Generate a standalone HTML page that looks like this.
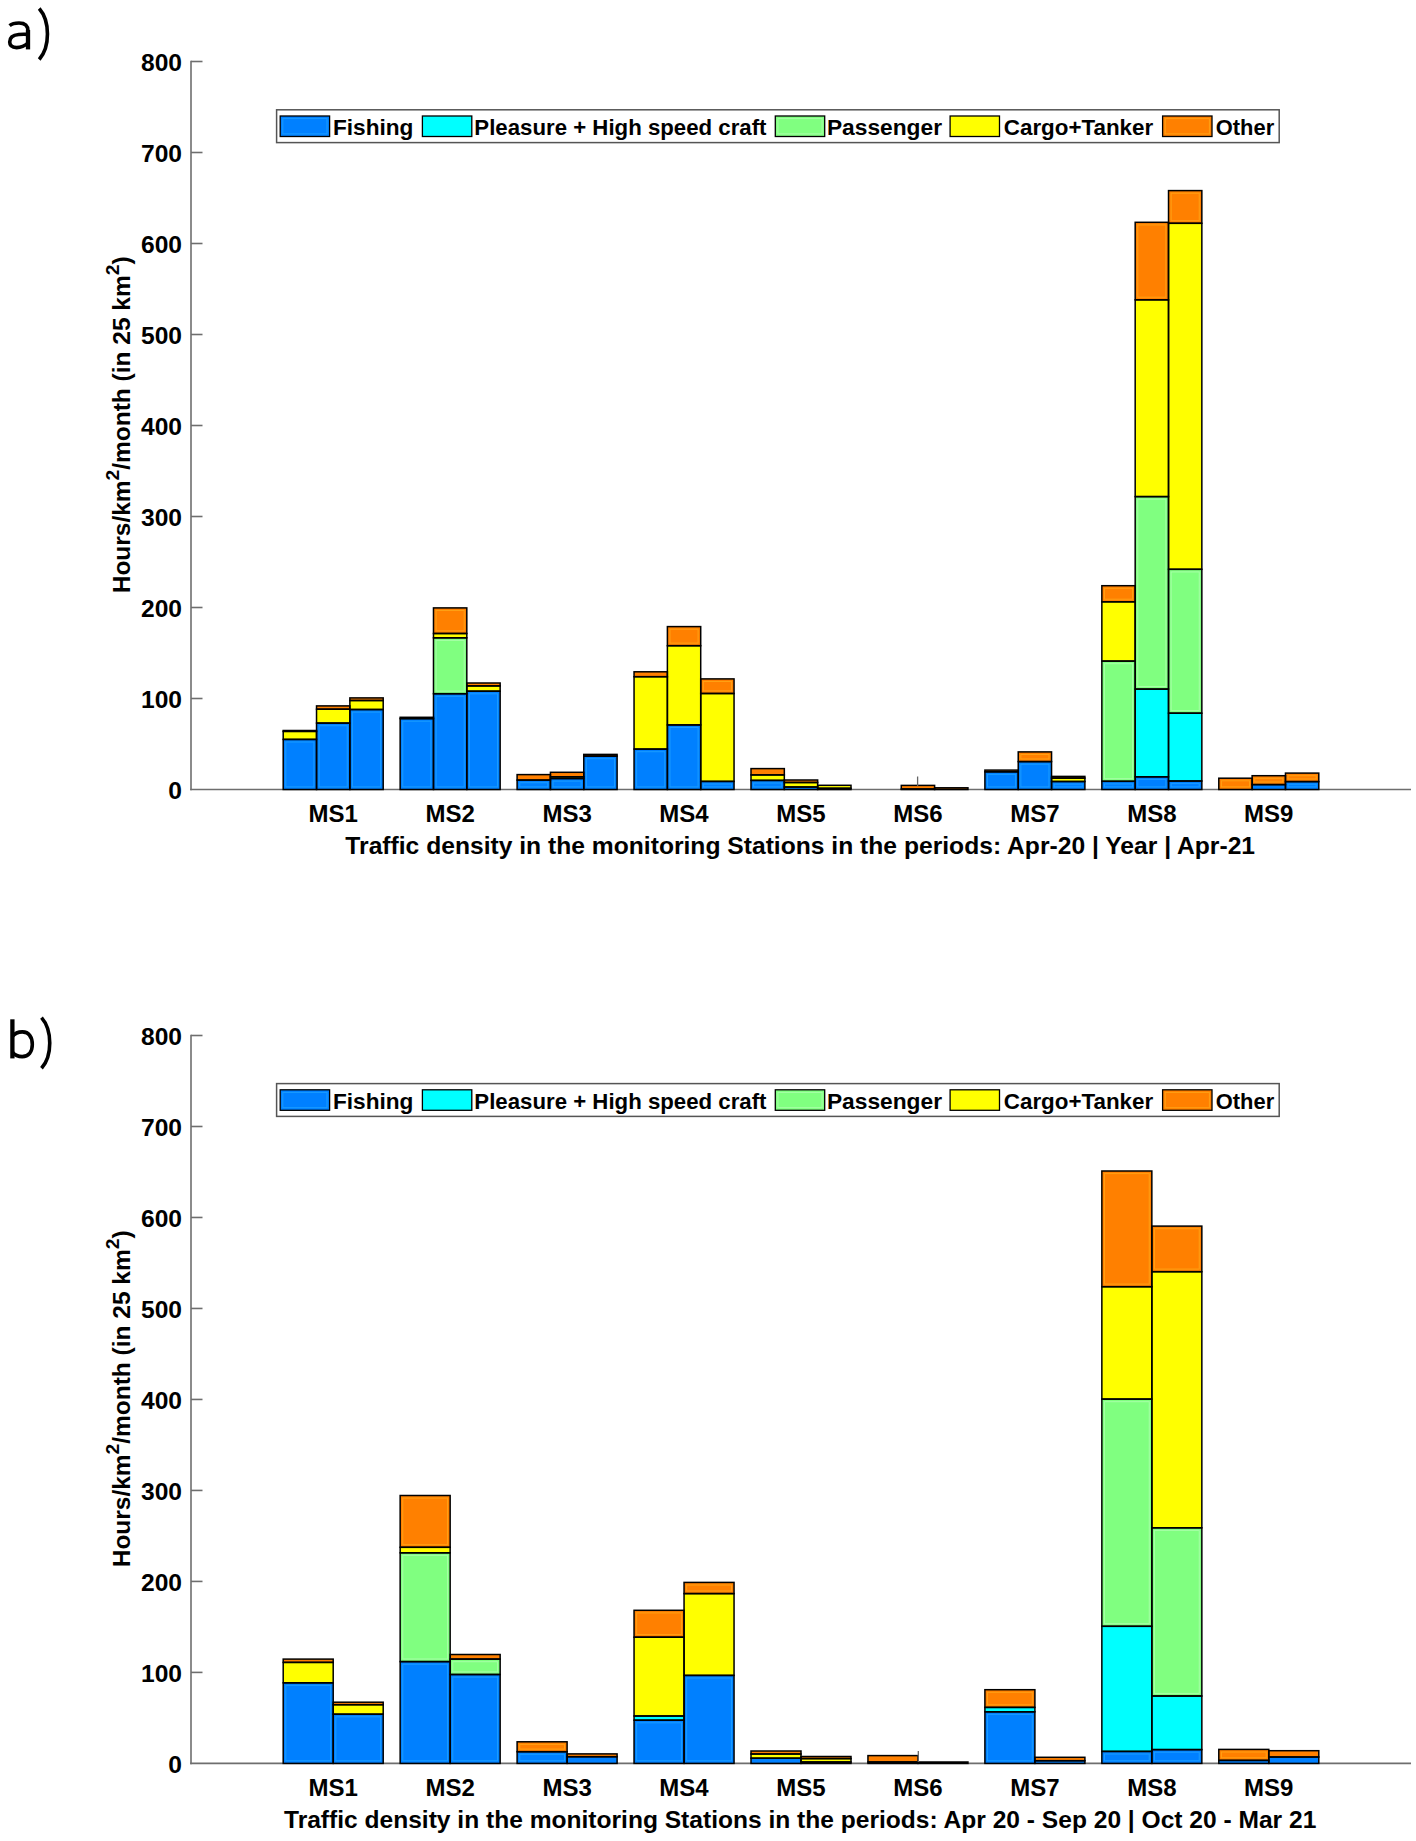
<!DOCTYPE html>
<html><head><meta charset="utf-8"><style>
html,body{margin:0;padding:0;background:#fff;}
body{width:1416px;height:1841px;overflow:hidden;}
svg{display:block;}
text{font-family:"Liberation Sans",sans-serif;fill:#000;}
.tn{font-size:24.6px;font-weight:bold;}
.tl{font-size:24px;font-weight:bold;}
.xl{font-size:24px;font-weight:bold;}
.yl{font-size:23px;font-weight:bold;}
.lt{font-size:22px;font-weight:bold;}
.pl{fill:none;stroke:#000;stroke-width:3.6;}
.pl .st{stroke-width:4.3;}
.e rect{fill:none;stroke:#000;stroke-width:1.5;}
.hl rect{fill:none;stroke-width:1;stroke-opacity:0.75;}
.ax{stroke:#6e6e6e;stroke-width:1.6;}
.lg{fill:#fff;stroke:#555;stroke-width:1.5;}
.sw{stroke:#000;stroke-width:1.3;}
</style></head><body>
<svg width="1416" height="1841" viewBox="0 0 1416 1841">
<line x1="191" y1="60.70" x2="191" y2="790.30" class="ax"/>
<line x1="190.2" y1="789.50" x2="1411" y2="789.50" class="ax"/>
<line x1="191" y1="698.50" x2="202.5" y2="698.50" class="ax"/>
<line x1="191" y1="607.50" x2="202.5" y2="607.50" class="ax"/>
<line x1="191" y1="516.50" x2="202.5" y2="516.50" class="ax"/>
<line x1="191" y1="425.50" x2="202.5" y2="425.50" class="ax"/>
<line x1="191" y1="334.50" x2="202.5" y2="334.50" class="ax"/>
<line x1="191" y1="243.50" x2="202.5" y2="243.50" class="ax"/>
<line x1="191" y1="152.50" x2="202.5" y2="152.50" class="ax"/>
<line x1="191" y1="61.50" x2="202.5" y2="61.50" class="ax"/>
<text x="182" y="799.30" class="tn" text-anchor="end">0</text>
<text x="182" y="708.30" class="tn" text-anchor="end">100</text>
<text x="182" y="617.30" class="tn" text-anchor="end">200</text>
<text x="182" y="526.30" class="tn" text-anchor="end">300</text>
<text x="182" y="435.30" class="tn" text-anchor="end">400</text>
<text x="182" y="344.30" class="tn" text-anchor="end">500</text>
<text x="182" y="253.30" class="tn" text-anchor="end">600</text>
<text x="182" y="162.30" class="tn" text-anchor="end">700</text>
<text x="182" y="71.30" class="tn" text-anchor="end">800</text>
<text x="333.20" y="822.10" class="tl" text-anchor="middle">MS1</text>
<text x="450.15" y="822.10" class="tl" text-anchor="middle">MS2</text>
<text x="567.10" y="822.10" class="tl" text-anchor="middle">MS3</text>
<text x="684.05" y="822.10" class="tl" text-anchor="middle">MS4</text>
<text x="801.00" y="822.10" class="tl" text-anchor="middle">MS5</text>
<text x="917.95" y="822.10" class="tl" text-anchor="middle">MS6</text>
<text x="1034.90" y="822.10" class="tl" text-anchor="middle">MS7</text>
<text x="1151.85" y="822.10" class="tl" text-anchor="middle">MS8</text>
<text x="1268.80" y="822.10" class="tl" text-anchor="middle">MS9</text>
<rect x="283.20" y="739.40" width="33.33" height="50.10" fill="#0080ff"/>
<rect x="283.20" y="731.40" width="33.33" height="8.00" fill="#ffff00"/>
<rect x="283.20" y="730.50" width="33.33" height="0.90" fill="#ff8000"/>
<rect x="316.53" y="723.10" width="33.33" height="66.40" fill="#0080ff"/>
<rect x="316.53" y="709.20" width="33.33" height="13.90" fill="#ffff00"/>
<rect x="316.53" y="705.90" width="33.33" height="3.30" fill="#ff8000"/>
<rect x="349.87" y="709.50" width="33.33" height="80.00" fill="#0080ff"/>
<rect x="349.87" y="700.50" width="33.33" height="9.00" fill="#ffff00"/>
<rect x="349.87" y="697.90" width="33.33" height="2.60" fill="#ff8000"/>
<rect x="400.15" y="718.60" width="33.33" height="70.90" fill="#0080ff"/>
<rect x="400.15" y="717.30" width="33.33" height="1.30" fill="#ff8000"/>
<rect x="433.48" y="693.70" width="33.33" height="95.80" fill="#0080ff"/>
<rect x="433.48" y="637.80" width="33.33" height="55.90" fill="#80ff80"/>
<rect x="433.48" y="633.50" width="33.33" height="4.30" fill="#ffff00"/>
<rect x="433.48" y="607.90" width="33.33" height="25.60" fill="#ff8000"/>
<rect x="466.82" y="691.20" width="33.33" height="98.30" fill="#0080ff"/>
<rect x="466.82" y="685.90" width="33.33" height="5.30" fill="#ffff00"/>
<rect x="466.82" y="683.00" width="33.33" height="2.90" fill="#ff8000"/>
<rect x="517.10" y="780.10" width="33.33" height="9.40" fill="#0080ff"/>
<rect x="517.10" y="774.60" width="33.33" height="5.50" fill="#ff8000"/>
<rect x="550.43" y="778.50" width="33.33" height="11.00" fill="#0080ff"/>
<rect x="550.43" y="776.80" width="33.33" height="1.70" fill="#ffff00"/>
<rect x="550.43" y="772.30" width="33.33" height="4.50" fill="#ff8000"/>
<rect x="583.77" y="756.10" width="33.33" height="33.40" fill="#0080ff"/>
<rect x="583.77" y="754.40" width="33.33" height="1.70" fill="#ff8000"/>
<rect x="634.05" y="749.10" width="33.33" height="40.40" fill="#0080ff"/>
<rect x="634.05" y="676.70" width="33.33" height="72.40" fill="#ffff00"/>
<rect x="634.05" y="671.80" width="33.33" height="4.90" fill="#ff8000"/>
<rect x="667.38" y="724.90" width="33.33" height="64.60" fill="#0080ff"/>
<rect x="667.38" y="645.70" width="33.33" height="79.20" fill="#ffff00"/>
<rect x="667.38" y="626.60" width="33.33" height="19.10" fill="#ff8000"/>
<rect x="700.72" y="781.40" width="33.33" height="8.10" fill="#0080ff"/>
<rect x="700.72" y="693.50" width="33.33" height="87.90" fill="#ffff00"/>
<rect x="700.72" y="678.90" width="33.33" height="14.60" fill="#ff8000"/>
<rect x="751.00" y="780.40" width="33.33" height="9.10" fill="#0080ff"/>
<rect x="751.00" y="774.90" width="33.33" height="5.50" fill="#ffff00"/>
<rect x="751.00" y="768.60" width="33.33" height="6.30" fill="#ff8000"/>
<rect x="784.33" y="787.00" width="33.33" height="2.50" fill="#0080ff"/>
<rect x="784.33" y="782.50" width="33.33" height="4.50" fill="#ffff00"/>
<rect x="784.33" y="780.00" width="33.33" height="2.50" fill="#ff8000"/>
<rect x="817.67" y="788.30" width="33.33" height="1.20" fill="#0080ff"/>
<rect x="817.67" y="785.30" width="33.33" height="3.00" fill="#ffff00"/>
<rect x="901.28" y="789.00" width="33.33" height="0.50" fill="#0080ff"/>
<rect x="901.28" y="785.40" width="33.33" height="3.60" fill="#ff8000"/>
<rect x="934.62" y="787.80" width="33.33" height="1.70" fill="#ff8000"/>
<rect x="984.90" y="771.80" width="33.33" height="17.70" fill="#0080ff"/>
<rect x="984.90" y="770.10" width="33.33" height="1.70" fill="#ff8000"/>
<rect x="1018.23" y="761.60" width="33.33" height="27.90" fill="#0080ff"/>
<rect x="1018.23" y="751.90" width="33.33" height="9.70" fill="#ff8000"/>
<rect x="1051.57" y="781.50" width="33.33" height="8.00" fill="#0080ff"/>
<rect x="1051.57" y="778.10" width="33.33" height="3.40" fill="#ffff00"/>
<rect x="1051.57" y="776.40" width="33.33" height="1.70" fill="#ff8000"/>
<rect x="1101.85" y="781.30" width="33.33" height="8.20" fill="#0080ff"/>
<rect x="1101.85" y="661.10" width="33.33" height="120.20" fill="#80ff80"/>
<rect x="1101.85" y="601.80" width="33.33" height="59.30" fill="#ffff00"/>
<rect x="1101.85" y="585.70" width="33.33" height="16.10" fill="#ff8000"/>
<rect x="1135.18" y="776.80" width="33.33" height="12.70" fill="#0080ff"/>
<rect x="1135.18" y="689.10" width="33.33" height="87.70" fill="#00ffff"/>
<rect x="1135.18" y="496.60" width="33.33" height="192.50" fill="#80ff80"/>
<rect x="1135.18" y="299.80" width="33.33" height="196.80" fill="#ffff00"/>
<rect x="1135.18" y="222.30" width="33.33" height="77.50" fill="#ff8000"/>
<rect x="1168.52" y="781.00" width="33.33" height="8.50" fill="#0080ff"/>
<rect x="1168.52" y="713.20" width="33.33" height="67.80" fill="#00ffff"/>
<rect x="1168.52" y="569.30" width="33.33" height="143.90" fill="#80ff80"/>
<rect x="1168.52" y="223.30" width="33.33" height="346.00" fill="#ffff00"/>
<rect x="1168.52" y="190.60" width="33.33" height="32.70" fill="#ff8000"/>
<rect x="1218.80" y="778.20" width="33.33" height="11.30" fill="#ff8000"/>
<rect x="1252.13" y="784.60" width="33.33" height="4.90" fill="#0080ff"/>
<rect x="1252.13" y="775.70" width="33.33" height="8.90" fill="#ff8000"/>
<rect x="1285.47" y="781.60" width="33.33" height="7.90" fill="#0080ff"/>
<rect x="1285.47" y="773.10" width="33.33" height="8.50" fill="#ff8000"/>
<g class="hl">
<rect x="285.80" y="742.00" width="28.13" height="44.90" stroke="#22a6ff"/>
<rect x="319.13" y="725.70" width="28.13" height="61.20" stroke="#22a6ff"/>
<rect x="352.47" y="712.10" width="28.13" height="74.80" stroke="#22a6ff"/>
<rect x="402.75" y="721.20" width="28.13" height="65.70" stroke="#22a6ff"/>
<rect x="436.08" y="696.30" width="28.13" height="90.60" stroke="#22a6ff"/>
<rect x="436.08" y="640.40" width="28.13" height="50.70" stroke="#b4ffb4"/>
<rect x="436.08" y="610.50" width="28.13" height="20.40" stroke="#ffab1a"/>
<rect x="469.42" y="693.80" width="28.13" height="93.10" stroke="#22a6ff"/>
<rect x="519.70" y="782.70" width="28.13" height="4.20" stroke="#22a6ff"/>
<rect x="553.03" y="781.10" width="28.13" height="5.80" stroke="#22a6ff"/>
<rect x="586.37" y="758.70" width="28.13" height="28.20" stroke="#22a6ff"/>
<rect x="636.65" y="751.70" width="28.13" height="35.20" stroke="#22a6ff"/>
<rect x="669.98" y="727.50" width="28.13" height="59.40" stroke="#22a6ff"/>
<rect x="669.98" y="629.20" width="28.13" height="13.90" stroke="#ffab1a"/>
<rect x="703.32" y="784.00" width="28.13" height="2.90" stroke="#22a6ff"/>
<rect x="703.32" y="681.50" width="28.13" height="9.40" stroke="#ffab1a"/>
<rect x="753.60" y="783.00" width="28.13" height="3.90" stroke="#22a6ff"/>
<rect x="987.50" y="774.40" width="28.13" height="12.50" stroke="#22a6ff"/>
<rect x="1020.83" y="764.20" width="28.13" height="22.70" stroke="#22a6ff"/>
<rect x="1020.83" y="754.50" width="28.13" height="4.50" stroke="#ffab1a"/>
<rect x="1054.17" y="784.10" width="28.13" height="2.80" stroke="#22a6ff"/>
<rect x="1104.45" y="783.90" width="28.13" height="3.00" stroke="#22a6ff"/>
<rect x="1104.45" y="663.70" width="28.13" height="115.00" stroke="#b4ffb4"/>
<rect x="1104.45" y="588.30" width="28.13" height="10.90" stroke="#ffab1a"/>
<rect x="1137.78" y="779.40" width="28.13" height="7.50" stroke="#22a6ff"/>
<rect x="1137.78" y="499.20" width="28.13" height="187.30" stroke="#b4ffb4"/>
<rect x="1137.78" y="224.90" width="28.13" height="72.30" stroke="#ffab1a"/>
<rect x="1171.12" y="783.60" width="28.13" height="3.30" stroke="#22a6ff"/>
<rect x="1171.12" y="571.90" width="28.13" height="138.70" stroke="#b4ffb4"/>
<rect x="1171.12" y="193.20" width="28.13" height="27.50" stroke="#ffab1a"/>
<rect x="1221.40" y="780.80" width="28.13" height="6.10" stroke="#ffab1a"/>
<rect x="1254.73" y="778.30" width="28.13" height="3.70" stroke="#ffab1a"/>
<rect x="1288.07" y="784.20" width="28.13" height="2.70" stroke="#22a6ff"/>
<rect x="1288.07" y="775.70" width="28.13" height="3.30" stroke="#ffab1a"/>
</g>
<g class="e">
<rect x="283.20" y="739.40" width="33.33" height="50.10"/>
<rect x="283.20" y="731.40" width="33.33" height="8.00"/>
<rect x="283.20" y="730.50" width="33.33" height="0.90"/>
<rect x="316.53" y="723.10" width="33.33" height="66.40"/>
<rect x="316.53" y="709.20" width="33.33" height="13.90"/>
<rect x="316.53" y="705.90" width="33.33" height="3.30"/>
<rect x="349.87" y="709.50" width="33.33" height="80.00"/>
<rect x="349.87" y="700.50" width="33.33" height="9.00"/>
<rect x="349.87" y="697.90" width="33.33" height="2.60"/>
<rect x="400.15" y="718.60" width="33.33" height="70.90"/>
<rect x="400.15" y="717.30" width="33.33" height="1.30"/>
<rect x="433.48" y="693.70" width="33.33" height="95.80"/>
<rect x="433.48" y="637.80" width="33.33" height="55.90"/>
<rect x="433.48" y="633.50" width="33.33" height="4.30"/>
<rect x="433.48" y="607.90" width="33.33" height="25.60"/>
<rect x="466.82" y="691.20" width="33.33" height="98.30"/>
<rect x="466.82" y="685.90" width="33.33" height="5.30"/>
<rect x="466.82" y="683.00" width="33.33" height="2.90"/>
<rect x="517.10" y="780.10" width="33.33" height="9.40"/>
<rect x="517.10" y="774.60" width="33.33" height="5.50"/>
<rect x="550.43" y="778.50" width="33.33" height="11.00"/>
<rect x="550.43" y="776.80" width="33.33" height="1.70"/>
<rect x="550.43" y="772.30" width="33.33" height="4.50"/>
<rect x="583.77" y="756.10" width="33.33" height="33.40"/>
<rect x="583.77" y="754.40" width="33.33" height="1.70"/>
<rect x="634.05" y="749.10" width="33.33" height="40.40"/>
<rect x="634.05" y="676.70" width="33.33" height="72.40"/>
<rect x="634.05" y="671.80" width="33.33" height="4.90"/>
<rect x="667.38" y="724.90" width="33.33" height="64.60"/>
<rect x="667.38" y="645.70" width="33.33" height="79.20"/>
<rect x="667.38" y="626.60" width="33.33" height="19.10"/>
<rect x="700.72" y="781.40" width="33.33" height="8.10"/>
<rect x="700.72" y="693.50" width="33.33" height="87.90"/>
<rect x="700.72" y="678.90" width="33.33" height="14.60"/>
<rect x="751.00" y="780.40" width="33.33" height="9.10"/>
<rect x="751.00" y="774.90" width="33.33" height="5.50"/>
<rect x="751.00" y="768.60" width="33.33" height="6.30"/>
<rect x="784.33" y="787.00" width="33.33" height="2.50"/>
<rect x="784.33" y="782.50" width="33.33" height="4.50"/>
<rect x="784.33" y="780.00" width="33.33" height="2.50"/>
<rect x="817.67" y="788.30" width="33.33" height="1.20"/>
<rect x="817.67" y="785.30" width="33.33" height="3.00"/>
<rect x="901.28" y="789.00" width="33.33" height="0.50"/>
<rect x="901.28" y="785.40" width="33.33" height="3.60"/>
<rect x="934.62" y="787.80" width="33.33" height="1.70"/>
<rect x="984.90" y="771.80" width="33.33" height="17.70"/>
<rect x="984.90" y="770.10" width="33.33" height="1.70"/>
<rect x="1018.23" y="761.60" width="33.33" height="27.90"/>
<rect x="1018.23" y="751.90" width="33.33" height="9.70"/>
<rect x="1051.57" y="781.50" width="33.33" height="8.00"/>
<rect x="1051.57" y="778.10" width="33.33" height="3.40"/>
<rect x="1051.57" y="776.40" width="33.33" height="1.70"/>
<rect x="1101.85" y="781.30" width="33.33" height="8.20"/>
<rect x="1101.85" y="661.10" width="33.33" height="120.20"/>
<rect x="1101.85" y="601.80" width="33.33" height="59.30"/>
<rect x="1101.85" y="585.70" width="33.33" height="16.10"/>
<rect x="1135.18" y="776.80" width="33.33" height="12.70"/>
<rect x="1135.18" y="689.10" width="33.33" height="87.70"/>
<rect x="1135.18" y="496.60" width="33.33" height="192.50"/>
<rect x="1135.18" y="299.80" width="33.33" height="196.80"/>
<rect x="1135.18" y="222.30" width="33.33" height="77.50"/>
<rect x="1168.52" y="781.00" width="33.33" height="8.50"/>
<rect x="1168.52" y="713.20" width="33.33" height="67.80"/>
<rect x="1168.52" y="569.30" width="33.33" height="143.90"/>
<rect x="1168.52" y="223.30" width="33.33" height="346.00"/>
<rect x="1168.52" y="190.60" width="33.33" height="32.70"/>
<rect x="1218.80" y="778.20" width="33.33" height="11.30"/>
<rect x="1252.13" y="784.60" width="33.33" height="4.90"/>
<rect x="1252.13" y="775.70" width="33.33" height="8.90"/>
<rect x="1285.47" y="781.60" width="33.33" height="7.90"/>
<rect x="1285.47" y="773.10" width="33.33" height="8.50"/>
</g>
<rect x="276.6" y="109.80" width="1002.6" height="32.8" class="lg"/>
<rect x="280.20" y="116.00" width="49.4" height="20.5" fill="#0080ff"/>
<rect x="282.80" y="118.60" width="44.2" height="15.3" fill="none" stroke="#22a6ff" stroke-width="1" stroke-opacity="0.75"/>
<rect x="280.20" y="116.00" width="49.4" height="20.5" fill="none" class="sw"/>
<text x="332.95" y="134.80" class="lt" textLength="80.47" lengthAdjust="spacingAndGlyphs">Fishing</text>
<rect x="422.40" y="116.00" width="49.4" height="20.5" fill="#00ffff"/>
<rect x="422.40" y="116.00" width="49.4" height="20.5" fill="none" class="sw"/>
<text x="474.38" y="134.80" class="lt" textLength="292.10" lengthAdjust="spacingAndGlyphs">Pleasure + High speed craft</text>
<rect x="775.30" y="116.00" width="49.4" height="20.5" fill="#80ff80"/>
<rect x="777.90" y="118.60" width="44.2" height="15.3" fill="none" stroke="#b4ffb4" stroke-width="1" stroke-opacity="0.75"/>
<rect x="775.30" y="116.00" width="49.4" height="20.5" fill="none" class="sw"/>
<text x="826.93" y="134.80" class="lt" textLength="115.09" lengthAdjust="spacingAndGlyphs">Passenger</text>
<rect x="950.10" y="116.00" width="49.4" height="20.5" fill="#ffff00"/>
<rect x="950.10" y="116.00" width="49.4" height="20.5" fill="none" class="sw"/>
<text x="1003.79" y="134.80" class="lt" textLength="149.44" lengthAdjust="spacingAndGlyphs">Cargo+Tanker</text>
<rect x="1162.60" y="116.00" width="49.4" height="20.5" fill="#ff8000"/>
<rect x="1165.20" y="118.60" width="44.2" height="15.3" fill="none" stroke="#ffab1a" stroke-width="1" stroke-opacity="0.75"/>
<rect x="1162.60" y="116.00" width="49.4" height="20.5" fill="none" class="sw"/>
<text x="1215.80" y="134.80" class="lt" textLength="58.38" lengthAdjust="spacingAndGlyphs">Other</text>
<text transform="translate(130.3,593.28) rotate(-90)" class="yl" textLength="336.82" lengthAdjust="spacingAndGlyphs">Hours/km<tspan dy="-11" font-size="18">2</tspan><tspan dy="11">/month (in 25 km</tspan><tspan dy="-11" font-size="18">2</tspan><tspan dy="11">)</tspan></text>
<text x="345.37" y="854.3" class="xl" textLength="909.69" lengthAdjust="spacingAndGlyphs">Traffic density in the monitoring Stations in the periods: Apr-20 | Year | Apr-21</text>
<g class="pl" transform="translate(0,0)"><path d="M9.6,25.6 C12.6,23.1 15.6,23.0 19,23.0 C25.2,23.0 28.0,25.6 28.0,31" /><path class="st" d="M28.0,30 V49.4" /><path d="M28.0,34.4 C25,34.2 22,34.2 18.8,34.5 C12.6,35 9.7,38 9.7,42.1 C9.7,46.2 12.6,47.6 16.6,47.6 C21.2,47.6 25,45.8 28.0,43" /><path d="M39.2,8.5 C50.2,21 50.2,47 39.2,59.5" /></g>
<line x1="917.6" y1="776.5" x2="917.6" y2="786" stroke="#666" stroke-width="1.3"/>
<line x1="191" y1="1034.70" x2="191" y2="1764.20" class="ax"/>
<line x1="190.2" y1="1763.40" x2="1411" y2="1763.40" class="ax"/>
<line x1="191" y1="1672.41" x2="202.5" y2="1672.41" class="ax"/>
<line x1="191" y1="1581.43" x2="202.5" y2="1581.43" class="ax"/>
<line x1="191" y1="1490.44" x2="202.5" y2="1490.44" class="ax"/>
<line x1="191" y1="1399.45" x2="202.5" y2="1399.45" class="ax"/>
<line x1="191" y1="1308.46" x2="202.5" y2="1308.46" class="ax"/>
<line x1="191" y1="1217.47" x2="202.5" y2="1217.47" class="ax"/>
<line x1="191" y1="1126.49" x2="202.5" y2="1126.49" class="ax"/>
<line x1="191" y1="1035.50" x2="202.5" y2="1035.50" class="ax"/>
<text x="182" y="1773.20" class="tn" text-anchor="end">0</text>
<text x="182" y="1682.21" class="tn" text-anchor="end">100</text>
<text x="182" y="1591.23" class="tn" text-anchor="end">200</text>
<text x="182" y="1500.24" class="tn" text-anchor="end">300</text>
<text x="182" y="1409.25" class="tn" text-anchor="end">400</text>
<text x="182" y="1318.26" class="tn" text-anchor="end">500</text>
<text x="182" y="1227.27" class="tn" text-anchor="end">600</text>
<text x="182" y="1136.29" class="tn" text-anchor="end">700</text>
<text x="182" y="1045.30" class="tn" text-anchor="end">800</text>
<text x="333.20" y="1796.00" class="tl" text-anchor="middle">MS1</text>
<text x="450.15" y="1796.00" class="tl" text-anchor="middle">MS2</text>
<text x="567.10" y="1796.00" class="tl" text-anchor="middle">MS3</text>
<text x="684.05" y="1796.00" class="tl" text-anchor="middle">MS4</text>
<text x="801.00" y="1796.00" class="tl" text-anchor="middle">MS5</text>
<text x="917.95" y="1796.00" class="tl" text-anchor="middle">MS6</text>
<text x="1034.90" y="1796.00" class="tl" text-anchor="middle">MS7</text>
<text x="1151.85" y="1796.00" class="tl" text-anchor="middle">MS8</text>
<text x="1268.80" y="1796.00" class="tl" text-anchor="middle">MS9</text>
<rect x="283.20" y="1682.80" width="50.00" height="80.60" fill="#0080ff"/>
<rect x="283.20" y="1662.40" width="50.00" height="20.40" fill="#ffff00"/>
<rect x="283.20" y="1659.10" width="50.00" height="3.30" fill="#ff8000"/>
<rect x="333.20" y="1714.20" width="50.00" height="49.20" fill="#0080ff"/>
<rect x="333.20" y="1704.70" width="50.00" height="9.50" fill="#ffff00"/>
<rect x="333.20" y="1702.20" width="50.00" height="2.50" fill="#ff8000"/>
<rect x="400.15" y="1661.60" width="50.00" height="101.80" fill="#0080ff"/>
<rect x="400.15" y="1552.80" width="50.00" height="108.80" fill="#80ff80"/>
<rect x="400.15" y="1547.30" width="50.00" height="5.50" fill="#ffff00"/>
<rect x="400.15" y="1495.50" width="50.00" height="51.80" fill="#ff8000"/>
<rect x="450.15" y="1674.50" width="50.00" height="88.90" fill="#0080ff"/>
<rect x="450.15" y="1659.10" width="50.00" height="15.40" fill="#80ff80"/>
<rect x="450.15" y="1654.50" width="50.00" height="4.60" fill="#ff8000"/>
<rect x="517.10" y="1751.70" width="50.00" height="11.70" fill="#0080ff"/>
<rect x="517.10" y="1741.80" width="50.00" height="9.90" fill="#ff8000"/>
<rect x="567.10" y="1756.70" width="50.00" height="6.70" fill="#0080ff"/>
<rect x="567.10" y="1753.90" width="50.00" height="2.80" fill="#ff8000"/>
<rect x="634.05" y="1720.20" width="50.00" height="43.20" fill="#0080ff"/>
<rect x="634.05" y="1716.00" width="50.00" height="4.20" fill="#00ffff"/>
<rect x="634.05" y="1637.20" width="50.00" height="78.80" fill="#ffff00"/>
<rect x="634.05" y="1610.30" width="50.00" height="26.90" fill="#ff8000"/>
<rect x="684.05" y="1675.40" width="50.00" height="88.00" fill="#0080ff"/>
<rect x="684.05" y="1593.60" width="50.00" height="81.80" fill="#ffff00"/>
<rect x="684.05" y="1582.40" width="50.00" height="11.20" fill="#ff8000"/>
<rect x="751.00" y="1758.20" width="50.00" height="5.20" fill="#0080ff"/>
<rect x="751.00" y="1754.00" width="50.00" height="4.20" fill="#ffff00"/>
<rect x="751.00" y="1751.00" width="50.00" height="3.00" fill="#ff8000"/>
<rect x="801.00" y="1762.00" width="50.00" height="1.40" fill="#0080ff"/>
<rect x="801.00" y="1758.60" width="50.00" height="3.40" fill="#ffff00"/>
<rect x="801.00" y="1756.50" width="50.00" height="2.10" fill="#ff8000"/>
<rect x="867.95" y="1762.00" width="50.00" height="1.40" fill="#0080ff"/>
<rect x="867.95" y="1755.60" width="50.00" height="6.40" fill="#ff8000"/>
<rect x="917.95" y="1762.00" width="50.00" height="1.40" fill="#ff8000"/>
<rect x="984.90" y="1711.80" width="50.00" height="51.60" fill="#0080ff"/>
<rect x="984.90" y="1707.40" width="50.00" height="4.40" fill="#00ffff"/>
<rect x="984.90" y="1689.70" width="50.00" height="17.70" fill="#ff8000"/>
<rect x="1034.90" y="1760.70" width="50.00" height="2.70" fill="#0080ff"/>
<rect x="1034.90" y="1757.30" width="50.00" height="3.40" fill="#ff8000"/>
<rect x="1101.85" y="1751.40" width="50.00" height="12.00" fill="#0080ff"/>
<rect x="1101.85" y="1626.30" width="50.00" height="125.10" fill="#00ffff"/>
<rect x="1101.85" y="1399.10" width="50.00" height="227.20" fill="#80ff80"/>
<rect x="1101.85" y="1286.70" width="50.00" height="112.40" fill="#ffff00"/>
<rect x="1101.85" y="1171.00" width="50.00" height="115.70" fill="#ff8000"/>
<rect x="1151.85" y="1749.60" width="50.00" height="13.80" fill="#0080ff"/>
<rect x="1151.85" y="1696.00" width="50.00" height="53.60" fill="#00ffff"/>
<rect x="1151.85" y="1527.80" width="50.00" height="168.20" fill="#80ff80"/>
<rect x="1151.85" y="1271.70" width="50.00" height="256.10" fill="#ffff00"/>
<rect x="1151.85" y="1226.10" width="50.00" height="45.60" fill="#ff8000"/>
<rect x="1218.80" y="1760.40" width="50.00" height="3.00" fill="#0080ff"/>
<rect x="1218.80" y="1749.40" width="50.00" height="11.00" fill="#ff8000"/>
<rect x="1268.80" y="1757.00" width="50.00" height="6.40" fill="#0080ff"/>
<rect x="1268.80" y="1750.70" width="50.00" height="6.30" fill="#ff8000"/>
<g class="hl">
<rect x="285.80" y="1685.40" width="44.80" height="75.40" stroke="#22a6ff"/>
<rect x="335.80" y="1716.80" width="44.80" height="44.00" stroke="#22a6ff"/>
<rect x="402.75" y="1664.20" width="44.80" height="96.60" stroke="#22a6ff"/>
<rect x="402.75" y="1555.40" width="44.80" height="103.60" stroke="#b4ffb4"/>
<rect x="402.75" y="1498.10" width="44.80" height="46.60" stroke="#ffab1a"/>
<rect x="452.75" y="1677.10" width="44.80" height="83.70" stroke="#22a6ff"/>
<rect x="452.75" y="1661.70" width="44.80" height="10.20" stroke="#b4ffb4"/>
<rect x="519.70" y="1754.30" width="44.80" height="6.50" stroke="#22a6ff"/>
<rect x="519.70" y="1744.40" width="44.80" height="4.70" stroke="#ffab1a"/>
<rect x="636.65" y="1722.80" width="44.80" height="38.00" stroke="#22a6ff"/>
<rect x="636.65" y="1612.90" width="44.80" height="21.70" stroke="#ffab1a"/>
<rect x="686.65" y="1678.00" width="44.80" height="82.80" stroke="#22a6ff"/>
<rect x="686.65" y="1585.00" width="44.80" height="6.00" stroke="#ffab1a"/>
<rect x="987.50" y="1714.40" width="44.80" height="46.40" stroke="#22a6ff"/>
<rect x="987.50" y="1692.30" width="44.80" height="12.50" stroke="#ffab1a"/>
<rect x="1104.45" y="1754.00" width="44.80" height="6.80" stroke="#22a6ff"/>
<rect x="1104.45" y="1401.70" width="44.80" height="222.00" stroke="#b4ffb4"/>
<rect x="1104.45" y="1173.60" width="44.80" height="110.50" stroke="#ffab1a"/>
<rect x="1154.45" y="1752.20" width="44.80" height="8.60" stroke="#22a6ff"/>
<rect x="1154.45" y="1530.40" width="44.80" height="163.00" stroke="#b4ffb4"/>
<rect x="1154.45" y="1228.70" width="44.80" height="40.40" stroke="#ffab1a"/>
<rect x="1221.40" y="1752.00" width="44.80" height="5.80" stroke="#ffab1a"/>
</g>
<g class="e">
<rect x="283.20" y="1682.80" width="50.00" height="80.60"/>
<rect x="283.20" y="1662.40" width="50.00" height="20.40"/>
<rect x="283.20" y="1659.10" width="50.00" height="3.30"/>
<rect x="333.20" y="1714.20" width="50.00" height="49.20"/>
<rect x="333.20" y="1704.70" width="50.00" height="9.50"/>
<rect x="333.20" y="1702.20" width="50.00" height="2.50"/>
<rect x="400.15" y="1661.60" width="50.00" height="101.80"/>
<rect x="400.15" y="1552.80" width="50.00" height="108.80"/>
<rect x="400.15" y="1547.30" width="50.00" height="5.50"/>
<rect x="400.15" y="1495.50" width="50.00" height="51.80"/>
<rect x="450.15" y="1674.50" width="50.00" height="88.90"/>
<rect x="450.15" y="1659.10" width="50.00" height="15.40"/>
<rect x="450.15" y="1654.50" width="50.00" height="4.60"/>
<rect x="517.10" y="1751.70" width="50.00" height="11.70"/>
<rect x="517.10" y="1741.80" width="50.00" height="9.90"/>
<rect x="567.10" y="1756.70" width="50.00" height="6.70"/>
<rect x="567.10" y="1753.90" width="50.00" height="2.80"/>
<rect x="634.05" y="1720.20" width="50.00" height="43.20"/>
<rect x="634.05" y="1716.00" width="50.00" height="4.20"/>
<rect x="634.05" y="1637.20" width="50.00" height="78.80"/>
<rect x="634.05" y="1610.30" width="50.00" height="26.90"/>
<rect x="684.05" y="1675.40" width="50.00" height="88.00"/>
<rect x="684.05" y="1593.60" width="50.00" height="81.80"/>
<rect x="684.05" y="1582.40" width="50.00" height="11.20"/>
<rect x="751.00" y="1758.20" width="50.00" height="5.20"/>
<rect x="751.00" y="1754.00" width="50.00" height="4.20"/>
<rect x="751.00" y="1751.00" width="50.00" height="3.00"/>
<rect x="801.00" y="1762.00" width="50.00" height="1.40"/>
<rect x="801.00" y="1758.60" width="50.00" height="3.40"/>
<rect x="801.00" y="1756.50" width="50.00" height="2.10"/>
<rect x="867.95" y="1762.00" width="50.00" height="1.40"/>
<rect x="867.95" y="1755.60" width="50.00" height="6.40"/>
<rect x="917.95" y="1762.00" width="50.00" height="1.40"/>
<rect x="984.90" y="1711.80" width="50.00" height="51.60"/>
<rect x="984.90" y="1707.40" width="50.00" height="4.40"/>
<rect x="984.90" y="1689.70" width="50.00" height="17.70"/>
<rect x="1034.90" y="1760.70" width="50.00" height="2.70"/>
<rect x="1034.90" y="1757.30" width="50.00" height="3.40"/>
<rect x="1101.85" y="1751.40" width="50.00" height="12.00"/>
<rect x="1101.85" y="1626.30" width="50.00" height="125.10"/>
<rect x="1101.85" y="1399.10" width="50.00" height="227.20"/>
<rect x="1101.85" y="1286.70" width="50.00" height="112.40"/>
<rect x="1101.85" y="1171.00" width="50.00" height="115.70"/>
<rect x="1151.85" y="1749.60" width="50.00" height="13.80"/>
<rect x="1151.85" y="1696.00" width="50.00" height="53.60"/>
<rect x="1151.85" y="1527.80" width="50.00" height="168.20"/>
<rect x="1151.85" y="1271.70" width="50.00" height="256.10"/>
<rect x="1151.85" y="1226.10" width="50.00" height="45.60"/>
<rect x="1218.80" y="1760.40" width="50.00" height="3.00"/>
<rect x="1218.80" y="1749.40" width="50.00" height="11.00"/>
<rect x="1268.80" y="1757.00" width="50.00" height="6.40"/>
<rect x="1268.80" y="1750.70" width="50.00" height="6.30"/>
</g>
<rect x="276.6" y="1083.60" width="1002.6" height="32.8" class="lg"/>
<rect x="280.20" y="1089.80" width="49.4" height="20.5" fill="#0080ff"/>
<rect x="282.80" y="1092.40" width="44.2" height="15.3" fill="none" stroke="#22a6ff" stroke-width="1" stroke-opacity="0.75"/>
<rect x="280.20" y="1089.80" width="49.4" height="20.5" fill="none" class="sw"/>
<text x="332.95" y="1108.60" class="lt" textLength="80.47" lengthAdjust="spacingAndGlyphs">Fishing</text>
<rect x="422.40" y="1089.80" width="49.4" height="20.5" fill="#00ffff"/>
<rect x="422.40" y="1089.80" width="49.4" height="20.5" fill="none" class="sw"/>
<text x="474.38" y="1108.60" class="lt" textLength="292.10" lengthAdjust="spacingAndGlyphs">Pleasure + High speed craft</text>
<rect x="775.30" y="1089.80" width="49.4" height="20.5" fill="#80ff80"/>
<rect x="777.90" y="1092.40" width="44.2" height="15.3" fill="none" stroke="#b4ffb4" stroke-width="1" stroke-opacity="0.75"/>
<rect x="775.30" y="1089.80" width="49.4" height="20.5" fill="none" class="sw"/>
<text x="826.93" y="1108.60" class="lt" textLength="115.09" lengthAdjust="spacingAndGlyphs">Passenger</text>
<rect x="950.10" y="1089.80" width="49.4" height="20.5" fill="#ffff00"/>
<rect x="950.10" y="1089.80" width="49.4" height="20.5" fill="none" class="sw"/>
<text x="1003.79" y="1108.60" class="lt" textLength="149.44" lengthAdjust="spacingAndGlyphs">Cargo+Tanker</text>
<rect x="1162.60" y="1089.80" width="49.4" height="20.5" fill="#ff8000"/>
<rect x="1165.20" y="1092.40" width="44.2" height="15.3" fill="none" stroke="#ffab1a" stroke-width="1" stroke-opacity="0.75"/>
<rect x="1162.60" y="1089.80" width="49.4" height="20.5" fill="none" class="sw"/>
<text x="1215.80" y="1108.60" class="lt" textLength="58.38" lengthAdjust="spacingAndGlyphs">Other</text>
<text transform="translate(130.3,1567.28) rotate(-90)" class="yl" textLength="336.82" lengthAdjust="spacingAndGlyphs">Hours/km<tspan dy="-11" font-size="18">2</tspan><tspan dy="11">/month (in 25 km</tspan><tspan dy="-11" font-size="18">2</tspan><tspan dy="11">)</tspan></text>
<text x="283.99" y="1828.2" class="xl" textLength="1032.33" lengthAdjust="spacingAndGlyphs">Traffic density in the monitoring Stations in the periods: Apr 20 - Sep 20 | Oct 20 - Mar 21</text>
<g class="pl"><path class="st" d="M12.4,1019.3 V1058.4" /><path d="M12.4,1036.5 C15.2,1032.8 18.6,1031.9 22.4,1031.9 C29.2,1031.9 32.3,1037.6 32.3,1044.6 C32.3,1051.9 28.6,1056.6 22.2,1056.6 C18.2,1056.6 15,1055.2 12.4,1052.2" /><path d="M41.5,1017.6 C52.5,1030 52.5,1056 41.5,1068.3" /></g>
<line x1="918.3" y1="1751" x2="918.3" y2="1762" stroke="#666" stroke-width="1.3"/>
</svg>
</body></html>
